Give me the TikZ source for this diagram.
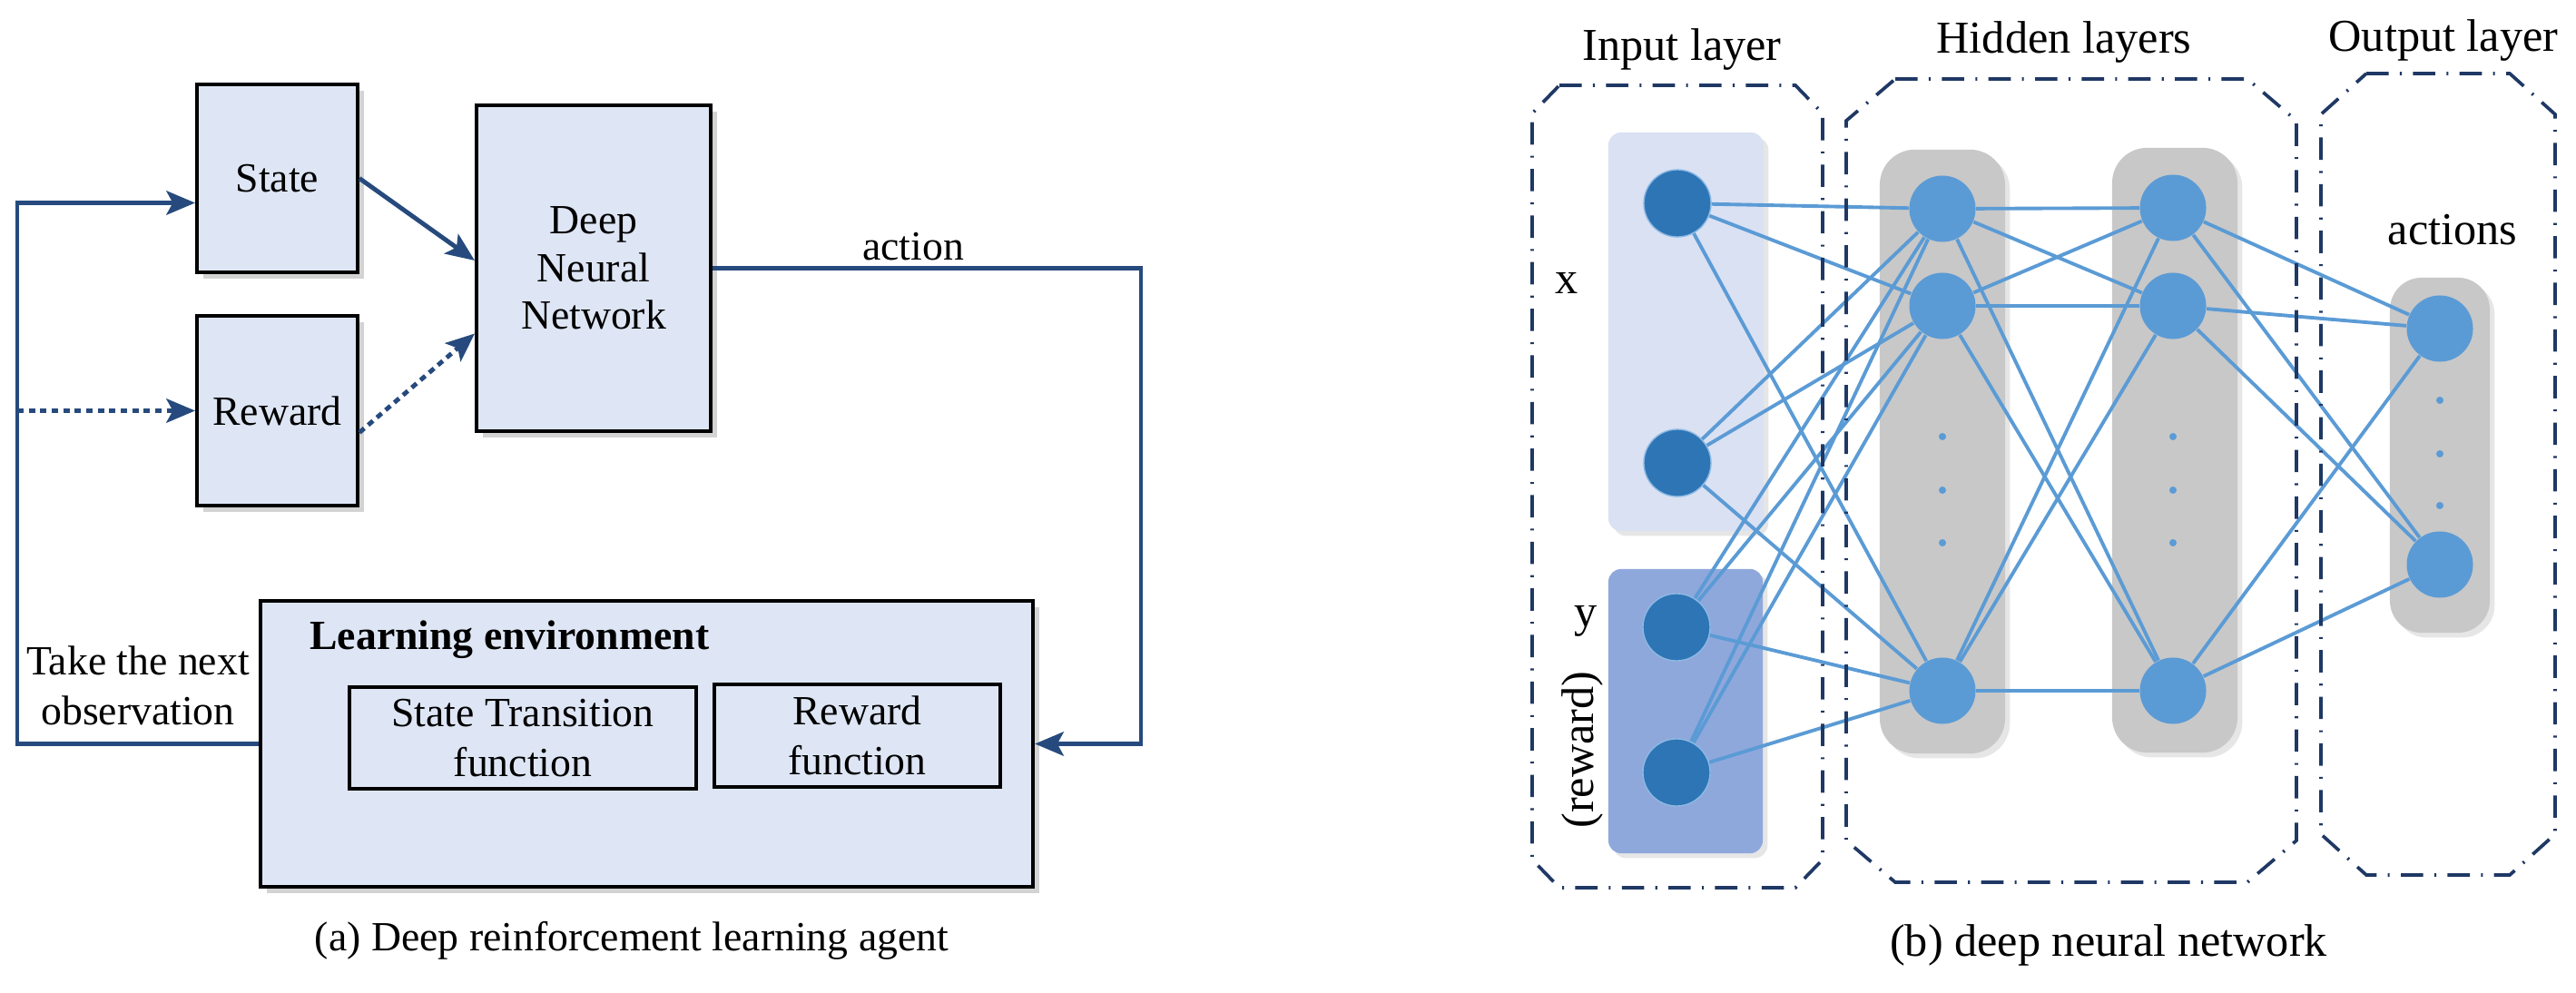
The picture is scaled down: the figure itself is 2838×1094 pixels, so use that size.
\documentclass[tikz,border=0pt]{standalone}
\usepackage{fontspec}
\setmainfont{Liberation Serif}
\usetikzlibrary{arrows.meta,shadows,calc}
\definecolor{boxfill}{HTML}{DEE6F5}
\definecolor{arrowc}{HTML}{264A7D}
\definecolor{dashc}{HTML}{1F3864}
\definecolor{nodedark}{HTML}{2E75B6}
\definecolor{nodelight}{HTML}{5B9BD5}
\definecolor{colgray}{HTML}{C8C8C8}
\definecolor{xboxc}{HTML}{DAE1F3}
\definecolor{yboxc}{HTML}{8FA8DC}
\pgfdeclarelayer{bg}
\pgfdeclarelayer{edges}
\pgfsetlayers{bg,edges,main}
\begin{document}
\begin{tikzpicture}[x=0.01cm,y=-0.01cm,
  lfont/.style={font=\fontsize{13}{15}\selectfont},
  rfont/.style={font=\fontsize{14.3}{17}\selectfont},
  lbox/.style={draw=black,line width=1.1pt,fill=boxfill,
    drop shadow={shadow xshift=2pt,shadow yshift=-2pt,opacity=0.35},
    inner sep=0pt,align=center,lfont},
  ibox/.style={draw=black,line width=1pt,fill=boxfill,inner sep=0pt,align=center,
    font=\fontsize{13}{15.6}\selectfont},
  flow/.style={draw=arrowc,line width=1.4pt,-{Stealth[length=9pt,width=7.5pt,inset=2pt]}},
  dotflow/.style={flow,dash pattern=on 2pt off 1.6pt},
  grp/.style={draw=dashc,line width=1.05pt,dash pattern=on 7pt off 3.5pt on 0.6pt off 3.5pt},
  colbox/.style={fill=colgray,rounded corners=11pt,inner sep=0pt,
    drop shadow={shadow xshift=1.5pt,shadow yshift=-1.5pt,opacity=0.2}},
  inbox/.style={rounded corners=4pt,inner sep=0pt,
    drop shadow={shadow xshift=1.5pt,shadow yshift=-1.5pt,opacity=0.2}},
  inode/.style={circle,fill=nodedark,draw=nodelight!70,line width=0.4pt,minimum size=0.74cm,inner sep=0pt},
  hnode/.style={circle,fill=nodelight,minimum size=0.73cm,inner sep=0pt},
  dotn/.style={circle,fill=nodelight,minimum size=0.08cm,inner sep=0pt},
  edge/.style={draw=nodelight,line width=1.1pt}
]
\useasboundingbox (0,0) rectangle (2838,1094);

% ---------------- left panel ----------------
\node[lbox,minimum width=1.77cm,minimum height=2.07cm] (S) at (305.5,196.5) {State};
\node[lbox,minimum width=1.77cm,minimum height=2.09cm] (R) at (305.5,452.5) {Reward};
\node[lbox,minimum width=2.58cm,minimum height=3.59cm] (D) at (654,295.5) {Deep\\Neural\\Network};
\node[lbox,minimum width=8.51cm,minimum height=3.15cm] (E) at (712.5,819.5) {};
\node[ibox,minimum width=3.82cm,minimum height=1.12cm] (STF) at (576,813) {State Transition\\function};
\node[ibox,minimum width=3.15cm,minimum height=1.13cm] (RF) at (944.5,810.5) {Reward\\function};
\node[anchor=base west,font=\fontsize{13}{15}\selectfont\bfseries] (LE) at (329,715) {Learning environment};

\coordinate (c1) at (1257,500);
\coordinate (c2) at (19,500);
\coordinate (sIn) at ($(S.west)+(0,27)$);
\coordinate (dIn1) at ($(D.west)+(0,-8.5)$);
\coordinate (dIn2) at ($(D.west)+(0,72)$);
\coordinate (rOut) at ($(R.east)+(0,24)$);

\draw[flow] (S.east) -- (dIn1);
\draw[dotflow] (rOut) -- (dIn2);
\draw[flow] (D.east) -| (c1) |- (E.east);
\draw[flow] (E.west) -| (c2) |- (sIn);
\draw[dotflow] (c2 |- R.west) -- (R.west);

\node[lfont] (act) at (1006,272) {action};
\node[align=center,font=\fontsize{13}{15.6}\selectfont] (obs) at (152,755) {Take the next\\observation};
\node[lfont,anchor=base] (capa) at (696,1047) {(a) Deep reinforcement learning agent};

% ---------------- right panel ----------------
\draw[grp] (1718,94) -- (1978,94) -- (2008,125) -- (2008,947) -- (1978,978) -- (1718,978) -- (1688,947) -- (1688,125) -- cycle;
\draw[grp] (2088,87) -- (2476,87) -- (2530,133) -- (2530,926) -- (2476,972) -- (2088,972) -- (2034,926) -- (2034,133) -- cycle;
\draw[grp] (2607,81) -- (2765,81) -- (2815,126) -- (2815,919) -- (2765,964) -- (2607,964) -- (2557,919) -- (2557,126) -- cycle;

\node[rfont,anchor=base] (tin) at (1853,67) {Input layer};
\node[rfont,anchor=base] (thid) at (2274,59) {Hidden layers};
\node[rfont,anchor=base] (tout) at (2692,57) {Output layer};
\node[rfont,anchor=base] (tact) at (2702,270) {actions};
\node[rfont] (tx) at (1726,312) {x};
\node[rfont] (ty) at (1747,684) {y};
\node[rfont,rotate=90] (trw) at (1743,826) {(reward)};
\node[rfont,anchor=base] (capb) at (2323,1053) {(b) deep neural network};

\begin{pgfonlayer}{bg}
\node[inbox,fill=xboxc,minimum width=1.71cm,minimum height=4.39cm] (xb) at (1857.5,365.5) {};
\node[inbox,fill=yboxc,minimum width=1.70cm,minimum height=3.13cm] (yb) at (1857,783.5) {};
\node[colbox,minimum width=1.38cm,minimum height=6.65cm] (hc1) at (2140,497.5) {};
\node[colbox,minimum width=1.38cm,minimum height=6.66cm] (hc2) at (2396,496) {};
\node[colbox,minimum width=1.10cm,minimum height=3.91cm,rounded corners=10pt] (oc) at (2688,501.5) {};
\end{pgfonlayer}

\node[inode] (i1) at (1848,224) {};
\node[inode] (i2) at (1848,510) {};
\node[inode] (i3) at (1847,691) {};
\node[inode] (i4) at (1847,851) {};
\node[hnode] (h1) at (2140,230) {};
\node[hnode] (h2) at (2140,337) {};
\node[hnode] (h3) at (2140,761) {};
\node[hnode] (g1) at (2394,229) {};
\node[hnode] (g2) at (2394,337) {};
\node[hnode] (g3) at (2394,761) {};
\node[hnode] (o1) at (2688,362) {};
\node[hnode] (o2) at (2688,622) {};

\node[dotn] (da1) at (2140,481) {};
\node[dotn] (da2) at (2140,540) {};
\node[dotn] (da3) at (2140,598) {};
\node[dotn] (db1) at (2394,481) {};
\node[dotn] (db2) at (2394,540) {};
\node[dotn] (db3) at (2394,598) {};
\node[dotn] (dc1) at (2688,441) {};
\node[dotn] (dc2) at (2688,500) {};
\node[dotn] (dc3) at (2688,557) {};

\begin{pgfonlayer}{edges}
\foreach \a in {i1,i2,i3,i4} \foreach \b in {h1,h2,h3} \draw[edge] (\a) -- (\b);
\foreach \a in {h1,h2,h3} \foreach \b in {g1,g2,g3} \draw[edge] (\a) -- (\b);
\foreach \a in {g1,g2,g3} \foreach \b in {o1,o2} \draw[edge] (\a) -- (\b);
\end{pgfonlayer}
\end{tikzpicture}
\end{document}
